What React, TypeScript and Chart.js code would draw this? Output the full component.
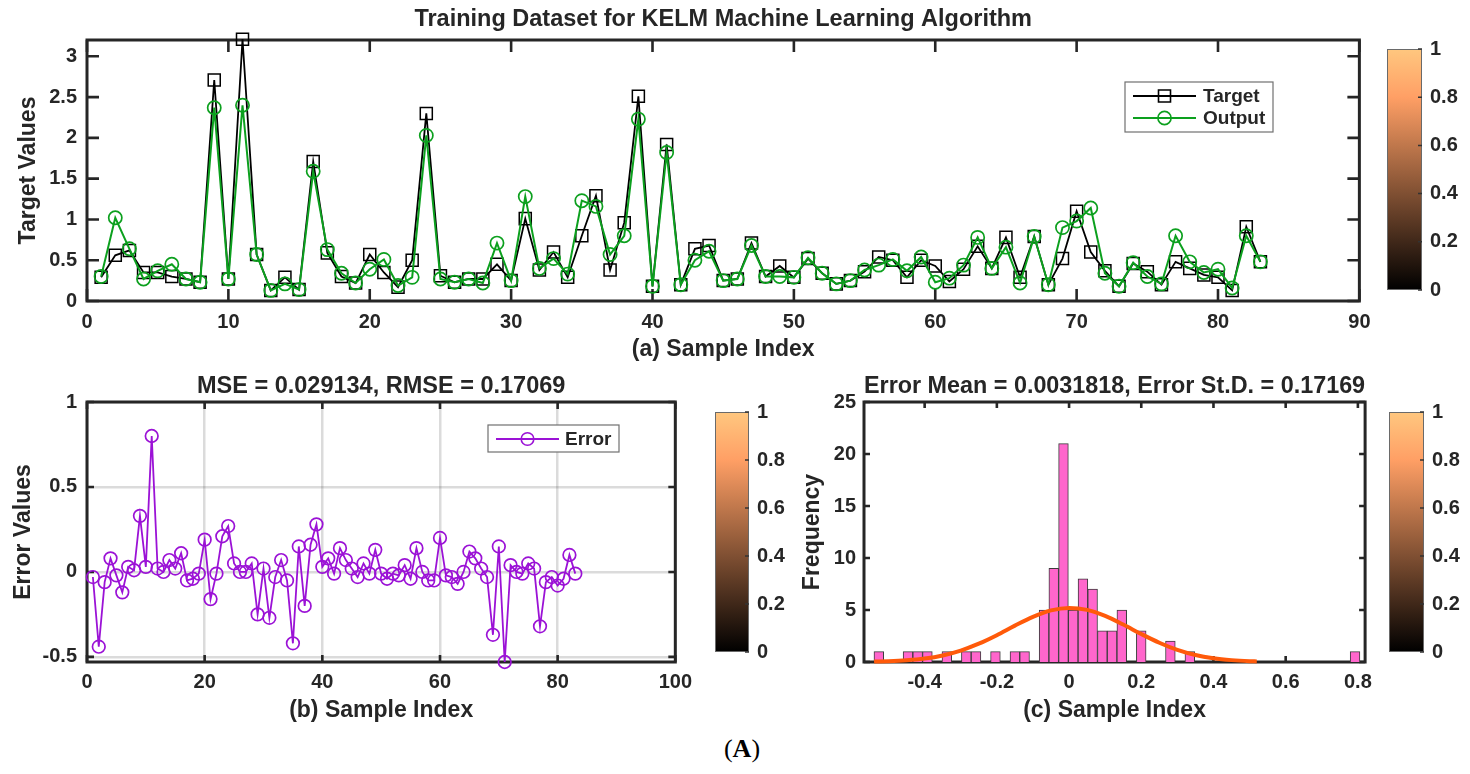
import React, { useEffect, useRef } from 'react';
import { Chart, registerables } from 'chart.js';

Chart.register(...registerables);

// ---------------- data ----------------
const sampleIndex = Array.from({ length: 83 }, (_, i) => i + 1);

const targetValues = [
  0.29, 0.56, 0.62, 0.35, 0.35, 0.30, 0.27, 0.23, 2.71, 0.27,
  3.21, 0.57, 0.13, 0.29, 0.14, 1.71, 0.59, 0.30, 0.22, 0.57,
  0.35, 0.17, 0.50, 2.30, 0.31, 0.23, 0.27, 0.27, 0.45, 0.25,
  1.01, 0.38, 0.60, 0.29, 0.80, 1.29, 0.38, 0.96, 2.51, 0.18,
  1.92, 0.20, 0.64, 0.68, 0.25, 0.27, 0.71, 0.30, 0.43, 0.29,
  0.52, 0.34, 0.21, 0.25, 0.36, 0.54, 0.50, 0.29, 0.50, 0.43,
  0.24, 0.39, 0.67, 0.40, 0.78, 0.29, 0.79, 0.20, 0.52, 1.10,
  0.60, 0.37, 0.18, 0.46, 0.36, 0.20, 0.48, 0.40, 0.32, 0.29,
  0.13, 0.91, 0.48,
];

const outputValues = [
  0.30, 1.02, 0.64, 0.27, 0.37, 0.45, 0.27, 0.23, 2.37, 0.27,
  2.40, 0.57, 0.13, 0.21, 0.14, 1.59, 0.63, 0.34, 0.22, 0.39,
  0.51, 0.19, 0.29, 2.03, 0.27, 0.23, 0.27, 0.22, 0.71, 0.25,
  1.28, 0.40, 0.52, 0.33, 1.23, 1.16, 0.57, 0.80, 2.23, 0.18,
  1.82, 0.20, 0.50, 0.61, 0.25, 0.27, 0.68, 0.30, 0.30, 0.29,
  0.53, 0.34, 0.21, 0.25, 0.38, 0.44, 0.51, 0.37, 0.54, 0.23,
  0.28, 0.44, 0.78, 0.40, 0.66, 0.22, 0.79, 0.20, 0.90, 0.98,
  1.14, 0.34, 0.18, 0.47, 0.30, 0.21, 0.80, 0.48, 0.35, 0.39,
  0.16, 0.80, 0.48,
];

const errorValues = [
  -0.03, -0.44, -0.06, 0.08, -0.02, -0.12, 0.03, 0.01, 0.33, 0.03,
  0.80, 0.02, 0.00, 0.07, 0.02, 0.11, -0.05, -0.04, -0.01, 0.19,
  -0.16, -0.01, 0.21, 0.27, 0.05, 0.00, 0.00, 0.05, -0.25, 0.02,
  -0.27, -0.03, 0.07, -0.05, -0.42, 0.15, -0.20, 0.16, 0.28, 0.03,
  0.08, -0.01, 0.14, 0.07, 0.02, -0.03, 0.05, -0.01, 0.13, -0.01,
  -0.04, -0.01, -0.02, 0.04, -0.04, 0.14, 0.00, -0.05, -0.05, 0.20,
  -0.02, -0.03, -0.07, 0.00, 0.12, 0.08, 0.02, -0.03, -0.37, 0.15,
  -0.53, 0.04, 0.00, -0.01, 0.05, 0.02, -0.32, -0.06, -0.03, -0.08,
  -0.04, 0.10, -0.01,
];

const histBinStart = -0.5404;
const histBinWidth = 0.02692;
const histCounts = [
  1, 0, 0, 1, 1, 1, 0, 1, 0, 1,
  1, 0, 1, 0, 1, 1, 0, 5, 9, 21,
  5, 8, 7, 3, 3, 5, 0, 3, 0, 0,
  2, 0, 1, 0, 0, 0, 0, 0, 0, 0,
  0, 0, 0, 0, 0, 0, 0, 0, 0, 1,
];

const fitX = [
  -0.54, -0.5, -0.45, -0.4, -0.35, -0.3, -0.25, -0.2, -0.15, -0.1, -0.05, 0.0,
  0.05, 0.1, 0.15, 0.2, 0.25, 0.3, 0.35, 0.4, 0.45, 0.5, 0.52,
];
const fitY = [
  0.04, 0.07, 0.16, 0.33, 0.63, 1.1, 1.76, 2.58, 3.5, 4.34, 4.96, 5.2,
  5.01, 4.43, 3.6, 2.69, 1.85, 1.16, 0.67, 0.36, 0.18, 0.08, 0.06,
];

const colorbarCategory = [''];
const colorbarValue = [1];

const titleA = 'Training Dataset for KELM Machine Learning Algorithm';
const titleB = 'MSE = 0.029134, RMSE = 0.17069';
const titleC = 'Error Mean = 0.0031818, Error St.D. = 0.17169';

// ---------------- styles ----------------
const AXIS = '#262626';
const GREEN = '#0ca01e';
const PURPLE = '#9b12d6';
const PINK = '#ff66cc';
const ORANGE = '#ff5a0a';
const GRID = 'rgba(0,0,0,0.14)';
const FAMILY = '"Liberation Sans", Arial, Helvetica, sans-serif';

Chart.defaults.font.family = FAMILY;

const tickFont = { family: FAMILY, size: 20, weight: 'bold' as const, lineHeight: 1.2 };
const labelFont = { family: FAMILY, size: 23, weight: 'bold' as const, lineHeight: 1.2 };
const titleFont = { family: FAMILY, size: 23.5, weight: 'bold' as const, lineHeight: 1 };
const legendFont = `bold 19px ${FAMILY}`;

const fmt = (v: any) => String(parseFloat(Number(v).toFixed(3)));

function copperGradient(chart: any) {
  const area = chart.chartArea;
  if (!area) return '#000';
  const g = chart.ctx.createLinearGradient(0, area.bottom, 0, area.top);
  g.addColorStop(0, 'rgb(0,0,0)');
  g.addColorStop(0.8, 'rgb(255,159,101)');
  g.addColorStop(1, 'rgb(255,199,127)');
  return g;
}

const matlabPlugin: any = {
  id: 'matlab',
  beforeDatasetsDraw(chart: any, _a: any, opts: any) {
    if (!opts || opts.colorbar) return;
    const { ctx, chartArea: a } = chart;
    const xs = chart.scales.x;
    const ys = chart.scales.y;
    const tl = opts.tickLength || 8;
    ctx.save();
    ctx.strokeStyle = AXIS;
    ctx.lineWidth = 2.6;
    ctx.beginPath();
    for (const t of xs.ticks) {
      const p = xs.getPixelForValue(t.value);
      ctx.moveTo(p, a.bottom);
      ctx.lineTo(p, a.bottom - tl);
      ctx.moveTo(p, a.top);
      ctx.lineTo(p, a.top + tl);
    }
    for (const t of ys.ticks) {
      const p = ys.getPixelForValue(t.value);
      ctx.moveTo(a.left, p);
      ctx.lineTo(a.left + tl, p);
      ctx.moveTo(a.right, p);
      ctx.lineTo(a.right - tl, p);
    }
    ctx.stroke();
    ctx.lineWidth = 3;
    ctx.strokeRect(a.left, a.top, a.right - a.left, a.bottom - a.top);
    ctx.restore();
  },
  afterDatasetsDraw(chart: any, _a: any, opts: any) {
    const { ctx, chartArea: a } = chart;
    if (opts && opts.colorbar) {
      const ys = chart.scales.y;
      ctx.save();
      ctx.strokeStyle = '#6a6a6a';
      ctx.lineWidth = 1;
      ctx.strokeRect(a.left + 0.5, a.top + 0.5, a.right - a.left - 1, a.bottom - a.top - 1);
      ctx.strokeStyle = '#333';
      ctx.lineWidth = 1.5;
      ctx.beginPath();
      for (const t of ys.ticks) {
        const p = ys.getPixelForValue(t.value);
        ctx.moveTo(a.right, p);
        ctx.lineTo(a.right - 4, p);
      }
      ctx.stroke();
      ctx.restore();
      return;
    }
    const L = opts && opts.legend;
    if (!L) return;
    ctx.save();
    ctx.fillStyle = '#ffffff';
    ctx.fillRect(L.box[0], L.box[1], L.box[2], L.box[3]);
    ctx.strokeStyle = '#707070';
    ctx.lineWidth = 1.2;
    ctx.strokeRect(L.box[0], L.box[1], L.box[2], L.box[3]);
    for (const it of L.items) {
      ctx.strokeStyle = it.color;
      ctx.lineWidth = it.lineWidth;
      ctx.beginPath();
      ctx.moveTo(L.lineX[0], it.y);
      ctx.lineTo(L.lineX[1], it.y);
      ctx.stroke();
      const cx = (L.lineX[0] + L.lineX[1]) / 2;
      ctx.lineWidth = 1.6;
      ctx.beginPath();
      if (it.marker === 'rect') {
        ctx.rect(cx - it.size / 2, it.y - it.size / 2, it.size, it.size);
      } else {
        ctx.arc(cx, it.y, it.size, 0, Math.PI * 2);
      }
      ctx.stroke();
      ctx.fillStyle = AXIS;
      ctx.font = legendFont;
      ctx.textAlign = 'left';
      ctx.textBaseline = 'middle';
      ctx.fillText(it.label, L.textX, it.y + 1);
    }
    ctx.restore();
  },
};

function axis(o: any) {
  return {
    type: 'linear',
    min: o.min,
    max: o.max,
    offset: false,
    ticks: {
      stepSize: o.step,
      padding: o.pad,
      font: tickFont,
      color: AXIS,
      callback: fmt,
      autoSkip: false,
      maxRotation: 0,
      includeBounds: false,
    },
    grid: o.grid
      ? { display: true, color: GRID, lineWidth: 2.5, drawTicks: false, offset: false }
      : { display: false, drawTicks: false, offset: false },
    border: { display: false },
    title: { display: true, text: o.title, font: labelFont, color: AXIS, padding: o.titlePadding },
    afterFit: (s: any) => {
      if (s.isHorizontal()) s.height = o.size;
      else s.width = o.size;
    },
  };
}

const baseOptions = {
  responsive: false,
  animation: false,
  events: [],
};

function topConfig(): any {
  return {
    type: 'line',
    data: {
      datasets: [
        {
          label: 'Output',
          data: sampleIndex.map((x, i) => ({ x, y: outputValues[i] })),
          borderColor: GREEN,
          borderWidth: 2,
          pointStyle: 'circle',
          pointRadius: 6.6,
          pointBorderWidth: 1.7,
          pointBorderColor: GREEN,
          pointBackgroundColor: 'rgba(0,0,0,0)',
          tension: 0,
          order: 0,
          clip: false,
        },
        {
          label: 'Target',
          data: sampleIndex.map((x, i) => ({ x, y: targetValues[i] })),
          borderColor: '#000',
          borderWidth: 1.8,
          pointStyle: 'rect',
          pointRadius: 8.5,
          pointBorderWidth: 1.5,
          pointBorderColor: '#000',
          pointBackgroundColor: 'rgba(0,0,0,0)',
          tension: 0,
          order: 1,
          clip: false,
        },
      ],
    },
    options: {
      ...baseOptions,
      layout: { padding: { left: 0, right: 19, top: 0, bottom: 0 } },
      plugins: {
        legend: { display: false },
        tooltip: { enabled: false },
        title: {
          display: true,
          text: titleA,
          fullSize: false,
          color: AXIS,
          font: titleFont,
          padding: { top: 8.25, bottom: 8.25 },
        },
        matlab: {
          tickLength: 12,
          legend: {
            box: [1125, 82, 148, 50],
            lineX: [1133, 1196],
            textX: 1203,
            items: [
              { label: 'Target', y: 96, color: '#000', marker: 'rect', size: 12, lineWidth: 1.8 },
              { label: 'Output', y: 118, color: GREEN, marker: 'circle', size: 6.6, lineWidth: 2 },
            ],
          },
        },
      },
      scales: {
        x: axis({ min: 0, max: 90, step: 10, size: 64, pad: 9.5, title: '(a) Sample Index', titlePadding: { top: 0, bottom: 2 } }),
        y: axis({ min: 0, max: 3.2, step: 0.5, size: 87, pad: 10, title: 'Target Values', titlePadding: { top: 14.7, bottom: 0 } }),
      },
    },
    plugins: [matlabPlugin],
  };
}

function errorConfig(): any {
  return {
    type: 'line',
    data: {
      datasets: [
        {
          label: 'Error',
          data: sampleIndex.map((x, i) => ({ x, y: errorValues[i] })),
          borderColor: PURPLE,
          borderWidth: 1.8,
          pointStyle: 'circle',
          pointRadius: 6.3,
          pointBorderWidth: 1.7,
          pointBorderColor: PURPLE,
          pointBackgroundColor: 'rgba(0,0,0,0)',
          tension: 0,
          clip: false,
        },
      ],
    },
    options: {
      ...baseOptions,
      layout: { padding: { left: 0, right: 18, top: 0, bottom: 0 } },
      plugins: {
        legend: { display: false },
        tooltip: { enabled: false },
        title: {
          display: true,
          text: titleB,
          fullSize: false,
          color: AXIS,
          font: titleFont,
          padding: { top: 10.25, bottom: 3.25 },
        },
        matlab: {
          tickLength: 7,
          legend: {
            box: [488, 60, 131, 27],
            lineX: [496, 559],
            textX: 565,
            items: [{ label: 'Error', y: 74, color: PURPLE, marker: 'circle', size: 6.3, lineWidth: 1.8 }],
          },
        },
      },
      scales: {
        x: axis({ min: 0, max: 100, step: 20, size: 68, pad: 8, title: '(b) Sample Index', titlePadding: { top: 0, bottom: 5.2 }, grid: true }),
        y: axis({ min: -0.53, max: 1, step: 0.5, size: 87, pad: 10, title: 'Error Values', titlePadding: { top: 10.2, bottom: 0 }, grid: true }),
      },
    },
    plugins: [matlabPlugin],
  };
}

function histConfig(): any {
  const bars = histCounts
    .map((c, i) => ({ x: histBinStart + (i + 0.5) * histBinWidth, y: c }))
    .filter((d) => d.y > 0);
  return {
    type: 'bar',
    data: {
      datasets: [
        {
          type: 'line',
          label: 'Fit',
          data: fitX.map((x, i) => ({ x, y: fitY[i] })),
          borderColor: ORANGE,
          borderWidth: 4,
          pointRadius: 0,
          cubicInterpolationMode: 'monotone',
          order: 0,
          clip: false,
        },
        {
          type: 'bar',
          label: 'Histogram',
          data: bars,
          backgroundColor: PINK,
          borderColor: '#3c3c3c',
          borderWidth: 1,
          barPercentage: 1,
          categoryPercentage: 1,
          order: 1,
        },
      ],
    },
    options: {
      ...baseOptions,
      layout: { padding: { left: 0, right: 13, top: 0, bottom: 0 } },
      plugins: {
        legend: { display: false },
        tooltip: { enabled: false },
        title: {
          display: true,
          text: titleC,
          fullSize: false,
          color: AXIS,
          font: titleFont,
          padding: { top: 10.25, bottom: 3.25 },
        },
        matlab: { tickLength: 6 },
      },
      scales: {
        x: axis({ min: -0.568, max: 0.82, step: 0.2, size: 68, pad: 8, title: '(c) Sample Index', titlePadding: { top: 0, bottom: 5.2 } }),
        y: axis({ min: 0, max: 25, step: 5, size: 94, pad: 8, title: 'Frequency', titlePadding: { top: 29.2, bottom: 0 } }),
      },
    },
    plugins: [matlabPlugin],
  };
}

function colorbarConfig(axisWidth: number): any {
  return {
    type: 'bar',
    data: {
      labels: colorbarCategory,
      datasets: [
        {
          data: colorbarValue,
          backgroundColor: (c: any) => copperGradient(c.chart),
          borderWidth: 0,
          barPercentage: 1,
          categoryPercentage: 1,
        },
      ],
    },
    options: {
      ...baseOptions,
      layout: { padding: { left: 7, top: 10, bottom: 10, right: 0 } },
      plugins: { legend: { display: false }, tooltip: { enabled: false }, matlab: { colorbar: true } },
      scales: {
        x: { display: false, offset: true },
        y: {
          position: 'right',
          min: 0,
          max: 1,
          ticks: { stepSize: 0.2, padding: 8, font: tickFont, color: AXIS, callback: fmt, includeBounds: false },
          grid: { display: false, drawTicks: false },
          border: { display: false },
          afterFit: (s: any) => {
            s.width = axisWidth;
          },
        },
      },
    },
    plugins: [matlabPlugin],
  };
}

function ChartCanvas(props: { left: number; top: number; width: number; height: number; make: () => any }) {
  const ref = useRef<HTMLCanvasElement>(null);
  useEffect(() => {
    const chart = new Chart(ref.current as HTMLCanvasElement, props.make());
    return () => chart.destroy();
  }, []);
  return (
    <canvas
      ref={ref}
      width={props.width}
      height={props.height}
      style={{ position: 'absolute', left: props.left, top: props.top, width: props.width, height: props.height }}
    />
  );
}

export default function App() {
  return (
    <div style={{ position: 'absolute', left: 0, top: 0, width: 1470, height: 774, background: '#ffffff', overflow: 'hidden' }}>
      <ChartCanvas left={0} top={0} width={1380} height={365} make={topConfig} />
      <ChartCanvas left={1380} top={29} width={90} height={281} make={() => colorbarConfig(48)} />
      <ChartCanvas left={0} top={365} width={700} height={365} make={errorConfig} />
      <ChartCanvas left={708} top={392} width={90} height={280} make={() => colorbarConfig(49)} />
      <ChartCanvas left={770} top={365} width={610} height={365} make={histConfig} />
      <ChartCanvas left={1382} top={392} width={88} height={280} make={() => colorbarConfig(46)} />
      <div
        style={{
          position: 'absolute',
          left: 700,
          top: 735,
          width: 84,
          textAlign: 'center',
          fontFamily: '"Liberation Serif", "Times New Roman", serif',
          fontSize: 26,
          lineHeight: '28px',
          color: '#000',
        }}
      >
        (<b>A</b>)
      </div>
    </div>
  );
}
